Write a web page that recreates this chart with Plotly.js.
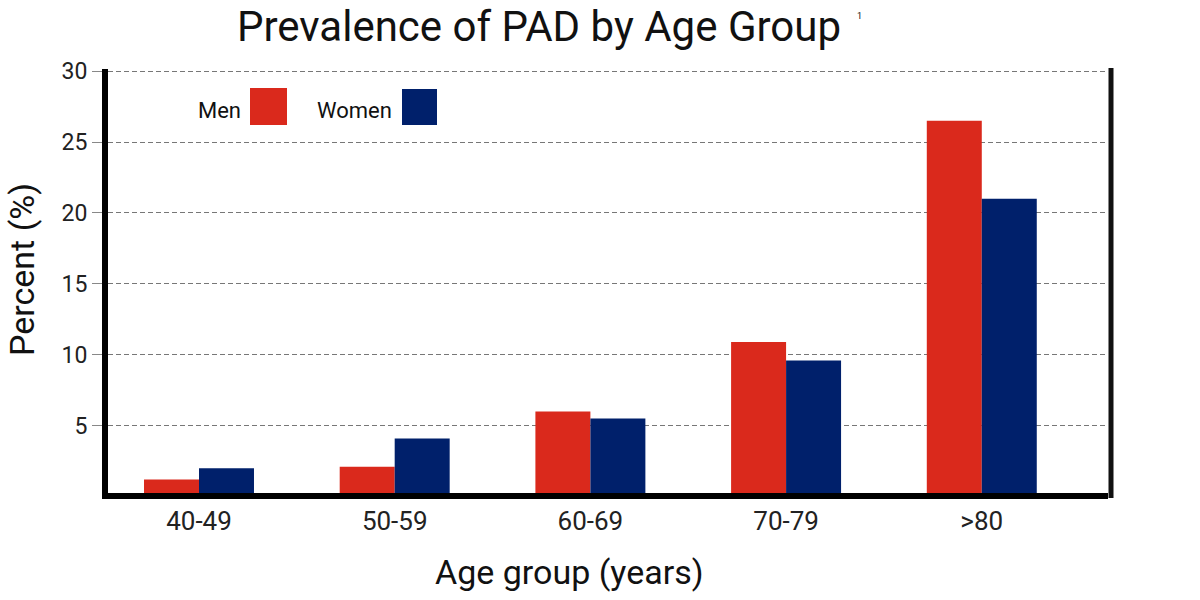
<!DOCTYPE html>
<html><head><meta charset="utf-8">
<script src="https://cdn.plot.ly/plotly-3.0.1.min.js"></script>
<style>html,body{margin:0;padding:0;background:#fff}</style>
</head><body><div id="chart" style="width:1200px;height:600px"></div>
<script>
const ageGroups = ['40-49', '50-59', '60-69', '70-79', '>80'];
const menValues = [1.2, 2.1, 6.0, 10.9, 26.5];
const womenValues = [2.0, 4.1, 5.5, 9.6, 21.0];
const yTickValues = [5, 10, 15, 20, 25, 30];
const yTickLabels = ['5', '10', '15', '20', '25', '30'];
const seriesNames = ['Men', 'Women'];
const seriesColors = ['#DA291C', '#00206B'];
const titleText = 'Prevalence of PAD by Age Group';
const titleNote = '1';
const xTitle = 'Age group (years)';
const yTitle = 'Percent (%)';

const FONT = 'Roboto, "Noto Sans", Arial, sans-serif';

const traces = [menValues, womenValues].map((vals, i) => ({
  type: 'bar',
  name: seriesNames[i],
  x: ageGroups,
  y: vals,
  marker: { color: seriesColors[i], line: { width: 0 } },
  showlegend: false,
  hoverinfo: 'x+y+name'
}));

const legendAnn = seriesNames.map((n, i) => ({
  text: n, xref: 'paper', yref: 'paper',
  x: [0.111, 0.246][i], y: 0.903, xanchor: 'center', yanchor: 'middle',
  showarrow: false, font: { family: FONT, size: 22, color: '#111' }
}));
const legendShapes = seriesColors.map((c, i) => ({
  type: 'rect', xref: 'paper', yref: 'paper',
  x0: [0.142, 0.294][i], x1: [0.179, 0.329][i],
  y0: 0.868, y1: [0.955, 0.953][i],
  fillcolor: c, line: { width: 0 }
}));

const layout = {
  width: 1200, height: 600,
  paper_bgcolor: '#fff', plot_bgcolor: '#fff',
  margin: { l: 108, r: 92, t: 69, b: 107 },
  bargap: 0.438, bargroupgap: 0, barmode: 'group',
  title: {
    text: titleText, xref: 'container', yref: 'container',
    x: 539 / 1200, xanchor: 'center', y: 1 - 26 / 600, yanchor: 'middle',
    font: { family: FONT, size: 42, color: '#111' }
  },
  xaxis: {
    type: 'category', range: [-0.465, 4.645],
    showline: true, linewidth: 6, linecolor: '#000',
    showgrid: false, zeroline: false, ticks: '',
    tickfont: { family: FONT, size: 26, color: '#222' },
    fixedrange: true
  },
  yaxis: {
    range: [0.25, 30.15], tickvals: yTickValues, ticktext: yTickLabels,
    showline: true, linewidth: 6, linecolor: '#000',
    showgrid: true, gridcolor: '#777', gridwidth: 1, griddash: '5px,3px',
    zeroline: false, ticks: 'outside', ticklen: 10, tickcolor: '#888', tickwidth: 1,
    tickfont: { family: FONT, size: 23, color: '#222' },
    fixedrange: true
  },
  shapes: [
    { type: 'line', xref: 'paper', yref: 'paper', x0: 1.003, x1: 1.003, y0: -0.0118, y1: 1.0024,
      line: { color: '#111', width: 5 } }
  ].concat(legendShapes),
  annotations: [
    { text: titleNote, xref: 'paper', yref: 'paper', x: 0.751, y: 1.125,
      xanchor: 'center', yanchor: 'middle', showarrow: false,
      font: { family: FONT, size: 9, color: '#111' } },
    { text: xTitle, xref: 'paper', yref: 'paper', x: 0.461, y: -0.186,
      xanchor: 'center', yanchor: 'middle', showarrow: false,
      font: { family: FONT, size: 34, color: '#111' } },
    { text: yTitle, xref: 'paper', yref: 'paper', x: -0.086, y: 0.526, textangle: -90,
      xanchor: 'center', yanchor: 'middle', showarrow: false,
      font: { family: FONT, size: 34, color: '#111' } }
  ].concat(legendAnn)
};

Plotly.newPlot('chart', traces, layout, { displayModeBar: false, staticPlot: true });
</script>
</body></html>
